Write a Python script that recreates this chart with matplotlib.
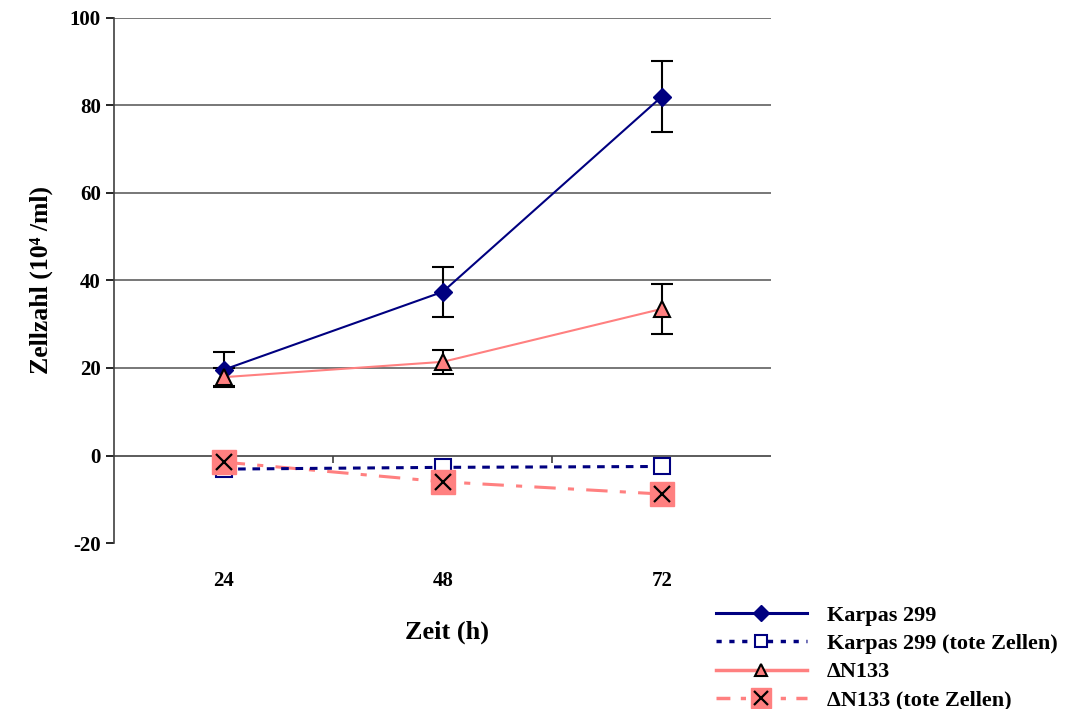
import matplotlib.pyplot as plt
from matplotlib.lines import Line2D
from matplotlib.legend_handler import HandlerTuple

plt.rcParams['font.family'] = ['Liberation Serif', 'DejaVu Serif']
plt.rcParams['font.weight'] = 'bold'
plt.rcParams['axes.unicode_minus'] = False

zeit = ["24", "48", "72"]
karpas = [19.6, 37.4, 82.0]
karpas_err = [4.0, 5.7, 8.2]
karpas_tot = [-3.1, -2.7, -2.5]
karpas_tot_err = [0.4, 0.5, 0.5]
dn133 = [17.9, 21.4, 33.5]
dn133_err = [2.0, 2.7, 5.7]
dn133_tot = [-1.5, -6.0, -8.8]

NAVY = '#000080'
PINK = '#FF8080'

fig = plt.figure(figsize=(10.67, 7.09), dpi=100)
ax = fig.add_axes([0.107, 0.234, 0.616, 0.741])
x = list(range(len(zeit)))

ax.set_ylim(-20, 100)
ax.set_xlim(-0.5, len(zeit) - 0.5)
ax.set_yticks(range(-20, 101, 20))
for v in range(20, 101, 20):
    ax.axhline(v, color='#606060', lw=1.2, zorder=0)
ax.axhline(0, color='#404040', lw=1.2, zorder=1)
ax.vlines([0.5, 1.5], -1.6, 0, color='#404040', lw=1.2, zorder=1)

# Karpas 299
ax.errorbar(x, karpas, yerr=karpas_err, color=NAVY, lw=1.5, marker='D', ms=9,
            ecolor='black', elinewidth=1.5, capsize=8, capthick=1.5, zorder=4)
# Karpas 299 tote Zellen
ax.errorbar(x, karpas_tot, yerr=karpas_tot_err, color=NAVY, lw=2.2, ls=(0, (2.5, 2.2)),
            marker='s', ms=11, mfc='white', mec=NAVY, mew=1.5,
            ecolor='black', elinewidth=1.2, capsize=3, zorder=3)
# dN133
ax.errorbar(x, dn133, yerr=dn133_err, color=PINK, lw=1.5, marker='^', ms=11,
            mfc=PINK, mec='black', mew=1.5,
            ecolor='black', elinewidth=1.5, capsize=8, capthick=1.5, zorder=4)
# dN133 tote Zellen
ax.plot(x, dn133_tot, color=PINK, lw=2.2, ls=(0, (7, 4, 2, 4)), zorder=2)
ax.plot(x, dn133_tot, ls='none', marker='s', ms=17, mfc=PINK, mec=PINK, zorder=3.5)
ax.plot(x, dn133_tot, ls='none', marker='x', ms=12, mec='black', mew=1.6, zorder=5)

ax.set_xticks(x)
ax.set_xticklabels(zeit)
ax.tick_params(axis='x', length=0, pad=20, labelsize=15)
ax.tick_params(axis='y', direction='out', length=6, width=1.2, labelsize=15, colors='black')
for s in ['top', 'right', 'bottom']:
    ax.spines[s].set_visible(False)
ax.spines['left'].set_color('#404040')
ax.spines['left'].set_linewidth(1.2)

ax.set_ylabel('Zellzahl (10\u2074 /ml)', fontsize=18.5, fontweight='bold', labelpad=12)
fig.text(0.419, 0.108, 'Zeit (h)', fontsize=19, fontweight='bold', ha='center', va='center')

h1 = Line2D([], [], color=NAVY, lw=2.2, marker='D', ms=8)
h2 = Line2D([], [], color=NAVY, lw=2.5, ls=(0, (1.5, 2.2)), marker='s', ms=9,
            mfc='white', mec=NAVY, mew=1.5)
h3 = Line2D([], [], color=PINK, lw=2.5, marker='^', ms=8, mfc=PINK, mec='black', mew=1.5)
h4a = Line2D([], [], color=PINK, lw=2.5, ls=(0, (4, 3, 1.5, 3)), marker='s', ms=14,
             mfc=PINK, mec=PINK)
h4b = Line2D([], [], ls='none', marker='x', ms=10, mec='black', mew=1.6)
fig.legend([h1, h2, h3, (h4a, h4b)],
           ['Karpas 299', 'Karpas 299 (tote Zellen)', '\u0394N133', '\u0394N133 (tote Zellen)'],
           handler_map={tuple: HandlerTuple(ndivide=1)},
           loc='upper left', bbox_to_anchor=(0.6625, 0.159), frameon=False,
           fontsize=16, handlelength=4.1, handletextpad=0.9, labelspacing=0.35,
           borderaxespad=0)

fig.savefig('out.png', dpi=100)
